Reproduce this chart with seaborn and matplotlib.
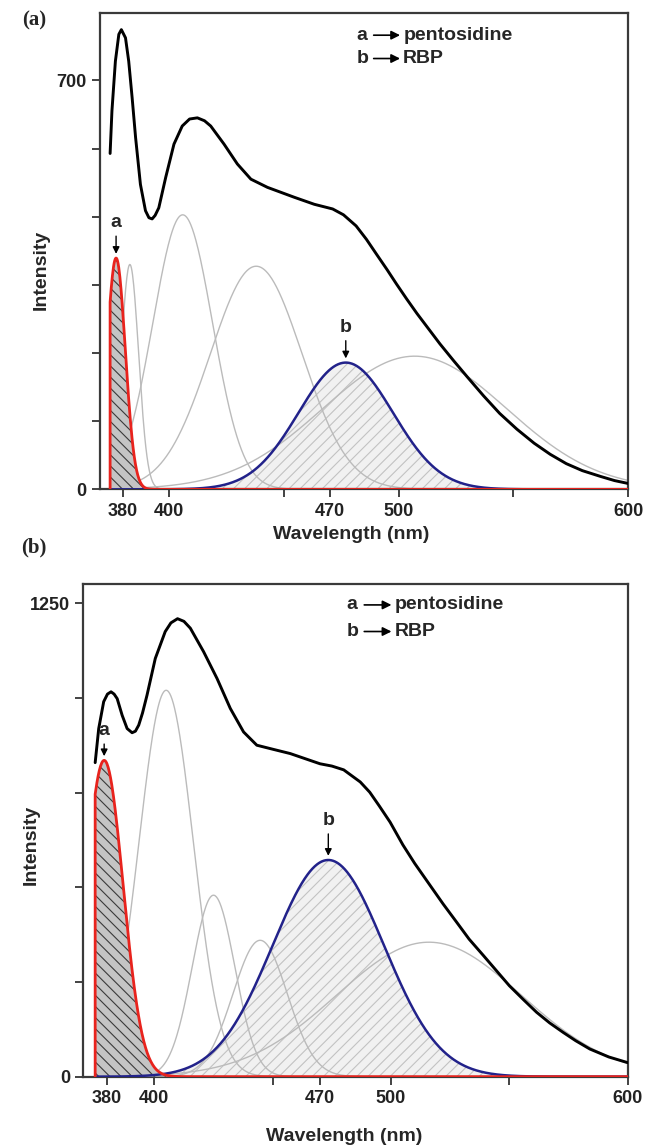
import numpy as np
import matplotlib
matplotlib.use("Agg")
import matplotlib.pyplot as plt
import seaborn as sns

sns.set_theme(style="white")
plt.rcParams["font.family"] = ["Liberation Sans", "DejaVu Sans"]
plt.rcParams["hatch.linewidth"] = 0.8

# emission envelope, panel (a)
black_a_wl = [374.4, 375.2, 376.7, 378.2, 379.3, 381.1, 382.5, 384, 385.5, 387.6,
              389.8, 391.3, 392.7, 394, 395.6, 398.6, 402.2, 405.8, 409, 412.4,
              415.5, 418.2, 424, 429.8, 435.7, 442.9, 454.6, 463.3, 471.3, 476,
              481.5, 486, 490.3, 495, 499, 503.5, 508, 513, 518, 524, 530, 537,
              544, 551.5, 559, 566, 573, 580, 588, 594, 600]
black_a_int = [575, 648, 733, 779, 787, 773, 733, 670, 602, 522,
               477, 465, 463, 469, 482, 534, 591, 622, 634, 636,
               631, 622, 591, 557, 531, 517, 500, 488, 480, 470,
               451, 428, 403, 376, 352, 326, 301, 275, 249, 220, 192, 160,
               130, 103, 79, 60, 44, 32, 22, 15, 10]

# emission envelope, panel (b)
black_b_wl = [375, 376.5, 378.6, 380.2, 381.7, 383, 384.3, 386.4, 388.5, 390.6,
              392, 393.4, 395, 396.9, 400.4, 404.6, 407, 409.8, 412.5, 415.2,
              420.8, 426.5, 432.1, 437.7, 443.3, 450.3, 457.4, 465.8, 470, 475,
              480, 487, 491, 495, 499.6, 505, 510, 516.5, 522, 527.7, 533, 539,
              544.5, 550, 556, 561.5, 567, 572.7, 578, 584, 592, 600]
black_b_int = [829, 919, 990, 1010, 1016, 1010, 998, 954, 919, 908,
               912, 928, 960, 1007, 1104, 1175, 1198, 1209, 1202, 1184,
               1122, 1051, 972, 910, 875, 864, 853, 835, 826, 820,
               810, 778, 751, 715, 672, 612, 563, 505, 456, 408, 363, 320,
               280, 240, 203, 170, 142, 117, 95, 73, 52, 37]

# fitted bands: centre (nm), height, width (nm)
red_a = [377, 396, 4.0]        # a: pentosidine
blue_a = [477, 217, 20.5]      # b: RBP
gray_a_center = [383, 406, 438, 507]
gray_a_height = [385, 470, 382, 228]
gray_a_width = [3.8, 13, 20, 40]

red_b = [378.8, 835, 8.0]
blue_b = [473.5, 572, 23.5]
gray_b_center = [405, 425, 444.7, 516]
gray_b_height = [1020, 479, 360, 355]
gray_b_width = [11.5, 9, 11.5, 39]

x_ticks = [380, 400, 450, 470, 500, 550, 600]
x_ticklabels = ["380", "400", "", "470", "500", "", "600"]
y_ticks_a = [0, 700 / 6, 1400 / 6, 350, 2800 / 6, 3500 / 6, 700]
y_ticklabels_a = ["0", "", "", "", "", "", "700"]
y_ticks_b = [0, 250, 500, 750, 1000, 1250]
y_ticklabels_b = ["0", "", "", "", "", "1250"]

WL_END = 600


def band(wl, c, h, w):
    return h * np.exp(-0.5 * ((wl - c) / w) ** 2)


def draw_panel(ax, bwl, bint, red, blue, gc, gh, gw, ymax, yt, ytl, offs, legx, legy):
    wl = np.linspace(bwl[0], WL_END, 901)

    blue_y = band(wl, *blue)
    ax.fill_between(wl, blue_y, facecolor="#f1f1f1", edgecolor="#c2c2c2",
                    hatch="///", linewidth=0, zorder=1)
    for c, h, w in zip(gc, gh, gw):
        sns.lineplot(x=wl, y=band(wl, c, h, w), ax=ax, color="#bbbbbb",
                     lw=1.0, estimator=None, zorder=2)
    red_y = band(wl, *red)
    ax.fill_between(wl, red_y, facecolor="#c4c4c4", edgecolor="#3a3a3a",
                    hatch="\\\\\\", linewidth=0, zorder=3)
    sns.lineplot(x=wl, y=blue_y, ax=ax, color="#22228a", lw=1.8,
                 estimator=None, zorder=4)
    sns.lineplot(x=np.r_[wl[0], wl], y=np.r_[0, red_y], ax=ax, color="#e8231d",
                 lw=2.0, sort=False, estimator=None, zorder=5)
    sns.lineplot(x=bwl, y=bint, ax=ax, color="black", lw=2.1,
                 estimator=None, zorder=6)

    # peak markers
    for lab, comp, off in zip(["a", "b"], [red, blue], offs):
        ax.annotate(lab, xy=(comp[0], comp[1]), xytext=(0, off),
                    textcoords="offset points", ha="center", va="baseline",
                    fontsize=14, fontweight="bold", zorder=7,
                    arrowprops=dict(arrowstyle="-|>", color="black", lw=1.0,
                                    mutation_scale=10, shrinkA=1, shrinkB=3))

    # key in the top of the panel
    for lab, txt, yy in zip(["a", "b"], ["pentosidine", "RBP"], legy):
        ax.text(legx, yy, lab, transform=ax.transAxes, fontsize=14,
                fontweight="bold", va="center", ha="left")
        ax.annotate("", xy=(legx + 0.082, yy), xytext=(legx + 0.032, yy),
                    xycoords="axes fraction",
                    arrowprops=dict(arrowstyle="-|>", color="black", lw=1.2,
                                    mutation_scale=13, shrinkA=0, shrinkB=0))
        ax.text(legx + 0.088, yy, txt, transform=ax.transAxes, fontsize=14,
                fontweight="bold", va="center", ha="left")

    ax.set_xlim(370, 600)
    ax.set_ylim(0, ymax)
    ax.set_xticks(x_ticks)
    ax.set_xticklabels(x_ticklabels)
    ax.set_yticks(yt)
    ax.set_yticklabels(ytl)
    ax.tick_params(axis="both", direction="out", length=6, width=1.2,
                   colors="#222222", labelsize=13, left=True, bottom=True)
    for lbl in ax.get_xticklabels() + ax.get_yticklabels():
        lbl.set_fontweight("bold")
    for sp in ax.spines.values():
        sp.set_visible(True)
        sp.set_linewidth(1.6)
        sp.set_color("#3a3a3a")
    ax.set_xlabel("Wavelength (nm)", fontsize=14, fontweight="bold")
    ax.set_ylabel("Intensity", fontsize=14, fontweight="bold")


fig = plt.figure(figsize=(6.46, 11.46), dpi=100)
ax_a = fig.add_axes([0.1548, 0.5730, 0.8178, 0.4154])
ax_b = fig.add_axes([0.1290, 0.0605, 0.8427, 0.4297])

draw_panel(ax_a, black_a_wl, black_a_int, red_a, blue_a,
           gray_a_center, gray_a_height, gray_a_width,
           815, y_ticks_a, y_ticklabels_a, [22, 22], 0.486, [0.954, 0.905])
draw_panel(ax_b, black_b_wl, black_b_int, red_b, blue_b,
           gray_b_center, gray_b_height, gray_b_width,
           1300, y_ticks_b, y_ticklabels_b, [18, 25], 0.484, [0.958, 0.904])

ax_a.xaxis.set_label_coords(0.475, -0.076)
ax_a.yaxis.set_label_coords(-0.096, 0.46)
ax_b.xaxis.set_label_coords(0.48, -0.104)
ax_b.yaxis.set_label_coords(-0.08, 0.47)

fig.text(0.053, 0.9825, "(a)", family=["Liberation Serif", "DejaVu Serif"],
         fontsize=15, fontweight="bold", ha="center", va="center")
fig.text(0.053, 0.522, "(b)", family=["Liberation Serif", "DejaVu Serif"],
         fontsize=15, fontweight="bold", ha="center", va="center")

fig.savefig("out.png", dpi=100)
